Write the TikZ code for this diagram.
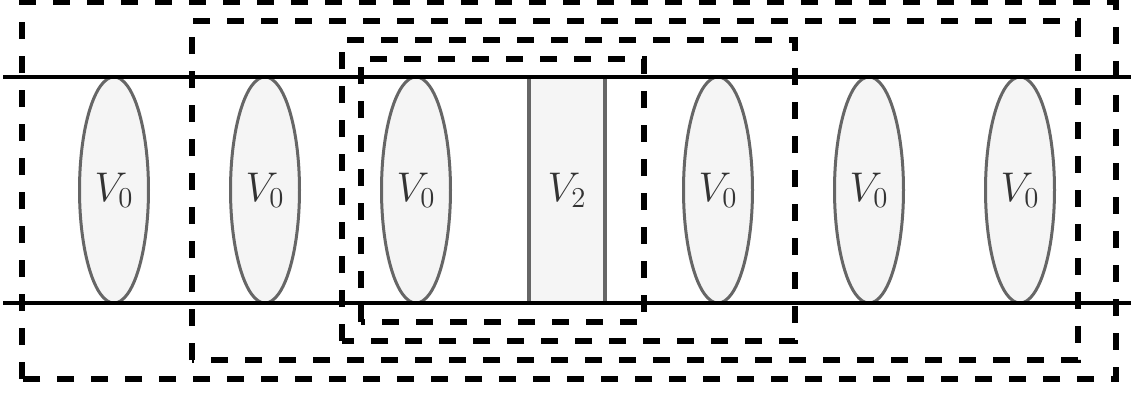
\documentclass[tikz,border=0pt]{standalone}
\usetikzlibrary{shapes.geometric}
\definecolor{cellfill}{HTML}{F5F5F5}
\definecolor{cellline}{HTML}{666666}
\definecolor{celltext}{HTML}{333333}
\tikzstyle{cell}=[draw=cellline,fill=cellfill,line width=1.5pt,text=celltext,inner sep=0pt,minimum height=113pt,font=\huge]
\tikzstyle{well}=[cell,ellipse,minimum width=34.5pt]
\tikzstyle{barrier}=[cell,rectangle,line width=2pt,minimum width=37.8pt]
\tikzstyle{rail}=[line width=2.2pt]
\tikzstyle{window}=[line width=2.7pt,dash pattern=on 8.5pt off 8.5pt]

\begin{document}
\begin{tikzpicture}[x=0.5pt,y=0.5pt,node distance=75.5pt]
    \useasboundingbox (0,0) rectangle (1131,392);
    % wells and barrier
    \node[well] (w1) at (114,202) {$V_0$};
    \node[well, right of=w1] (w2) {$V_0$};
    \node[well, right of=w2] (w3) {$V_0$};
    \node[barrier, right of=w3] (b) {$V_2$};
    \node[well, right of=b] (w4) {$V_0$};
    \node[well, right of=w4] (w5) {$V_0$};
    \node[well, right of=w5] (w6) {$V_0$};
    % rails
    \coordinate (tl) at (3,315);
    \coordinate (tr) at (1131,315);
    \coordinate (bl) at (3,89);
    \coordinate (br) at (1131,89);
    \draw[rail] (tl) -- (tr);
    \draw[rail] (bl) -- (br);
    % windows
    \draw[window] (22,13) rectangle (1116,390);
    \draw[window] (192,32) rectangle (1078,371);
    \draw[window] (342,51) rectangle (795,352);
    \draw[window] (361,70) rectangle (644,333);
\end{tikzpicture}
\end{document}
